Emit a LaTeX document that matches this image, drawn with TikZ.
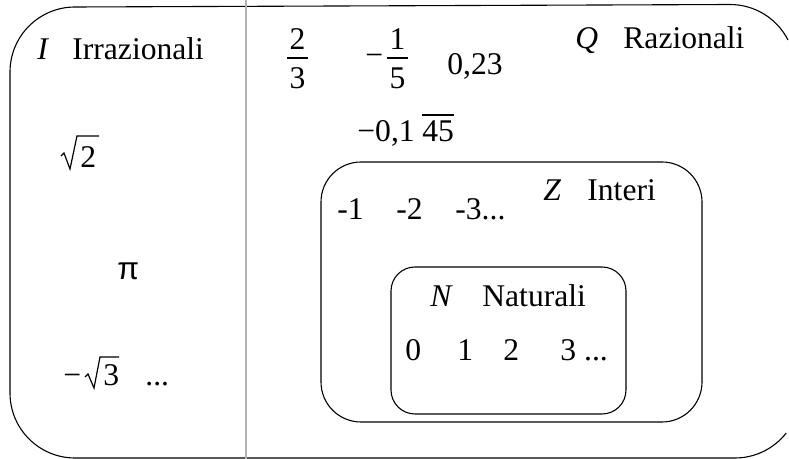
\documentclass[tikz,border=0pt]{standalone}
\usepackage{fontspec}
\setmainfont{Liberation Serif}
\newfontfamily\symsans{Liberation Sans}
\newcommand\bigtxt{\fontsize{15.8}{19}\selectfont}
\begin{document}
\begin{tikzpicture}[x=0.5pt,y=-0.5pt,
  txt/.style={inner sep=0pt, anchor=base west, font=\bigtxt},
  ctxt/.style={inner sep=0pt, anchor=base, font=\bigtxt},
  setbox/.style={draw=black, line width=0.55pt},
  mathline/.style={line width=0.6pt, line join=miter},
  divider/.style={draw=black!30, line width=0.8pt}]
\useasboundingbox (0,0) rectangle (789,459);

% outer set of the reals; its right side runs past the edge
\draw[setbox] (788,40) arc[start angle=-27, end angle=-90, radius=65]
  -- (75,7) arc[start angle=-90, end angle=-180, radius=65]
  -- (10,393) arc[start angle=180, end angle=90, radius=65]
  -- (735,458) arc[start angle=90, end angle=38, radius=65];

% split between irrationals and rationals
\draw[divider] (246,0) -- (246,459);

% integers and naturals
\draw[setbox, rounded corners=20pt] (321,162) rectangle (702,422);
\draw[setbox, rounded corners=12pt] (391,267) rectangle (626,414);

% ---- irrationals ----
\node[txt] (setI) at (37,60) {\itshape I};
\node[txt] (nameI) at (72,60) {Irrazionali};

\node[txt] (two) at (80,168) {2};
\draw[mathline] (61,156) -- (64,153) -- (70,169) -- (77,136) -- (99,136);

\node[txt, font=\bigtxt\symsans] (pi) at (117,280) {π};

\node[txt] (minA) at (63,386) {−};
\node[txt] (three) at (103,386) {3};
\draw[mathline] (85,377) -- (88,374) -- (94,388) -- (100,357) -- (119,357);
\node[txt] (dotsA) at (145,386) {...};

% ---- rationals ----
\node[ctxt] (numA) at (297.5,50) {2};
\node[ctxt] (denA) at (297.5,89) {3};
\draw[mathline] (287,58) -- (308,58);

\node[txt] (minB) at (365,66) {−};
\node[ctxt] (numB) at (397.5,50) {1};
\node[ctxt] (denB) at (397.5,89) {5};
\draw[mathline] (387,58) -- (408,58);

\node[txt] (dec) at (447,75) {0,23};

\node[txt] (setQ) at (575,49) {\itshape Q};
\node[txt] (nameQ) at (623,49) {Razionali};

\node[txt] (perA) at (357,142) {−0,1};
\node[txt] (perB) at (422,142) {45};
\draw[mathline] (422,115) -- (454,115);

% ---- integers ----
\node[txt] (zA) at (337,220) {-1};
\node[txt] (zB) at (396,220) {-2};
\node[txt] (zC) at (455,220) {-3...};
\node[txt] (setZ) at (543,201) {\itshape Z};
\node[txt] (nameZ) at (587,201) {Interi};

% ---- naturals ----
\node[txt] (setN) at (430,307) {\itshape N};
\node[txt] (nameN) at (482,307) {Naturali};
\node[txt] (nA) at (405,361) {0};
\node[txt] (nB) at (457,361) {1};
\node[txt] (nC) at (503,361) {2};
\node[txt] (nD) at (560,361) {3 ...};
\end{tikzpicture}
\end{document}
